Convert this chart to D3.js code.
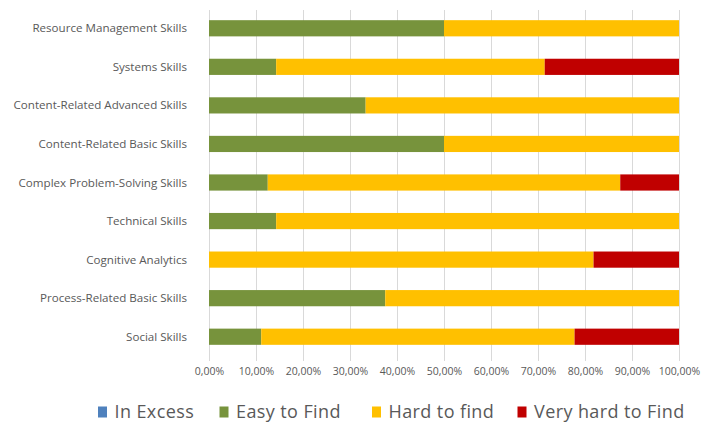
<!DOCTYPE html>
<html lang="en">
<head>
<meta charset="utf-8">
<title>Skills availability</title>
<script src="https://d3js.org/d3.v7.min.js"></script>
<style>
  body { margin: 0; background: #fff; }
  text { font-family: "Open Sans", sans-serif; fill: #595959; }
  .grid line { stroke: #d9d9d9; stroke-width: 1; }
</style>
</head>
<body>
<div id="chart"></div>
<script>
var categories = ["Resource Management Skills", "Systems Skills", "Content-Related Advanced Skills",
  "Content-Related Basic Skills", "Complex Problem-Solving Skills", "Technical Skills",
  "Cognitive Analytics", "Process-Related Basic Skills", "Social Skills"];

var seriesNames = ["In Excess", "Easy to Find", "Hard to find", "Very hard to Find"];
var inExcess   = [0, 0, 0, 0, 0, 0, 0, 0, 0];
var easyToFind = [50.00, 14.29, 33.33, 50.00, 12.50, 14.29, 0, 37.50, 11.11];
var hardToFind = [50.00, 57.14, 66.67, 50.00, 75.00, 85.71, 81.82, 62.50, 66.67];
var veryHard   = [0, 28.57, 0, 0, 12.50, 0, 18.18, 0, 22.22];
var xTicks = [0, 10, 20, 30, 40, 50, 60, 70, 80, 90, 100];
var colors = ["#4f81bd", "#77933c", "#ffc000", "#c00000"];

var W = 718, H = 424;
var svg = d3.select("#chart").append("svg").attr("width", W).attr("height", H);

var x = d3.scaleLinear().domain([0, 100]).range([209, 679]);
var y = d3.scaleBand().domain(categories).range([9, 356]).paddingInner(0.58).paddingOuter(0.29);

var rows = categories.map(function(c, i) {
  return { cat: c, "In Excess": inExcess[i], "Easy to Find": easyToFind[i],
           "Hard to find": hardToFind[i], "Very hard to Find": veryHard[i] };
});
var stacked = d3.stack().keys(seriesNames)(rows);

// gridlines
svg.append("g").attr("class", "grid")
  .selectAll("line").data(xTicks).enter().append("line")
    .attr("x1", function(d) { return Math.round(x(d)) + 0.5; })
    .attr("x2", function(d) { return Math.round(x(d)) + 0.5; })
    .attr("y1", 10)
    .attr("y2", 361);

// bars
svg.append("g").selectAll("g").data(stacked).enter().append("g")
    .attr("fill", function(d, i) { return colors[i]; })
  .selectAll("rect").data(function(d) { return d; }).enter().append("rect")
    .attr("x", function(d) { return x(d[0]); })
    .attr("y", function(d) { return y(d.data.cat); })
    .attr("width", function(d) { return x(d[1]) - x(d[0]); })
    .attr("height", y.bandwidth());

// category labels
svg.append("g").selectAll("text").data(categories).enter().append("text")
    .attr("x", 187)
    .attr("y", function(d) { return y(d) + y.bandwidth() / 2; })
    .attr("dy", "0.35em")
    .attr("text-anchor", "end")
    .style("font-size", "11.6px")
    .text(function(d) { return d; });

// x axis labels
var xAxis = d3.axisBottom(x).tickValues(xTicks).tickSize(0).tickPadding(0)
  .tickFormat(function(d) { return d3.format(".2f")(d).replace(".", ",") + "%"; });
var ax = svg.append("g").attr("transform", "translate(0,368)").call(xAxis);
ax.select(".domain").remove();
ax.selectAll("text").style("font-size", "10.5px").style("fill", "#595959")
  .style("font-family", "'Open Sans', sans-serif");

// legend
var legendX = [98, 219.5, 372, 517.5];
var lg = svg.append("g").selectAll("g").data(seriesNames).enter().append("g")
    .attr("transform", function(d, i) { return "translate(" + legendX[i] + ",412)"; });
lg.append("rect").attr("x", 0).attr("y", -5.5).attr("width", 9).attr("height", 11)
    .attr("fill", function(d, i) { return colors[i]; });
lg.append("text").attr("x", 16.5).attr("dy", "0.35em")
    .style("font-size", "18px")
    .style("letter-spacing", "0.4px")
    .text(function(d) { return d; });
</script>
</body>
</html>
